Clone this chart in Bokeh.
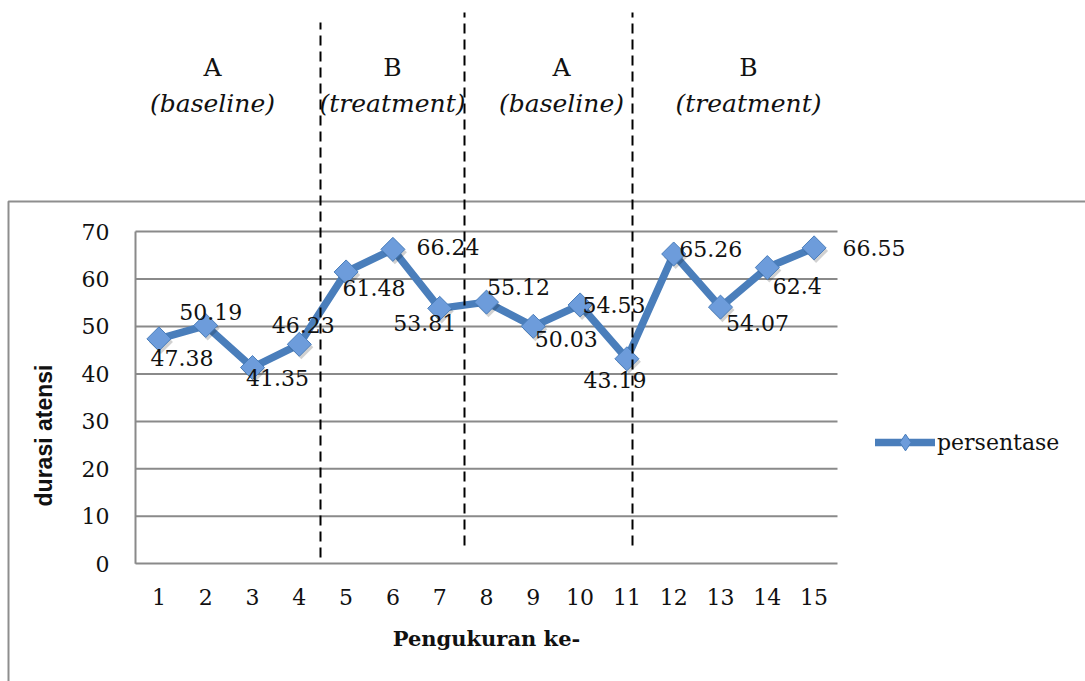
from math import pi
from bokeh.plotting import figure
from bokeh.models import ColumnDataSource, Range1d, LinearAxis, FixedTicker, Legend, LegendItem
from bokeh.core.properties import value
from bokeh.transform import dodge
from bokeh.embed import file_html
from bokeh.resources import INLINE

# ---------------- data ----------------
measurement = list(range(1, 16))
persentase = [47.38, 50.19, 41.35, 46.23, 61.48, 66.24, 53.81, 55.12,
              50.03, 54.53, 43.19, 65.26, 54.07, 62.4, 66.55]
x_ticks = measurement
y_ticks = [0, 10, 20, 30, 40, 50, 60, 70]
phase_letters = ["A", "B", "A", "B"]
phase_names = ["(baseline)", "(treatment)", "(baseline)", "(treatment)"]
series_name = "persentase"
x_title = "Pengukuran ke-"
y_title = "durasi atensi"

# ---------------- layout (pixel positions on the 1085x681 page) ----------------
W, H = 1085, 681
PX_LEFT, PX_RIGHT = 135.0, 837.0
PX_TOP, PX_BOTTOM = 231.0, 563.3
ux = (PX_RIGHT - PX_LEFT) / len(measurement)
uy = (PX_BOTTOM - PX_TOP) / (y_ticks[-1] - y_ticks[0])


def to_x(px):
    return 0.5 + (px - PX_LEFT) / ux


def to_y(py):
    return (PX_BOTTOM - py) / uy


label_dx = [23, 5, 25, 4, 28, 55, -15, 32, 33, 34, -12, 37, 37, 30, 60]
label_dy = [19, -14, 10, -19, 16, -2, 15, -15, 13, 0, 21, -5, 16, 18, 0]
phase_center_px = [212, 392, 561, 748]
letter_row_px, name_row_px = 67, 103
divider_px = [320, 464, 632]
divider_top_px = [22, 12, 12]
divider_bottom_px = [557, 545, 545]

GRAY = "#8A8A8A"
BLUE = "#4A7EBB"
SERIF = "DejaVu Serif"

p = figure(width=W, height=H,
           x_range=Range1d(to_x(0), to_x(W)), y_range=Range1d(to_y(H), to_y(0)),
           min_border=0, toolbar_location=None, tools="", output_backend="svg",
           x_axis_location=None, y_axis_location=None)
p.outline_line_color = None
p.background_fill_color = "white"
p.border_fill_color = "white"
p.grid.visible = False

# outer chart border (left and top)
p.line(x=[to_x(8), to_x(8), to_x(W + 10)], y=[to_y(H + 10), to_y(201), to_y(201)],
       line_color="#8E8E8E", line_width=2)

# horizontal gridlines
grid_y = y_ticks[1:]
p.segment(x0=[0.5] * len(grid_y), x1=[15.5] * len(grid_y), y0=grid_y, y1=grid_y,
          line_color=GRAY, line_width=2)
# left edge of plot area
p.segment(x0=[0.5], x1=[0.5], y0=[y_ticks[0]], y1=[y_ticks[-1]], line_color=GRAY, line_width=2)

# axes
xaxis = LinearAxis(fixed_location=0, bounds=(0.5, 15.5), ticker=FixedTicker(ticks=x_ticks),
                   axis_label=x_title)
yaxis = LinearAxis(fixed_location=0.5, bounds=(-16, 70), ticker=FixedTicker(ticks=y_ticks),
                   axis_label=y_title)
for ax in (xaxis, yaxis):
    ax.major_tick_in = 0
    ax.major_tick_out = 0
    ax.minor_tick_in = 0
    ax.minor_tick_out = 0
    ax.major_label_text_font = SERIF
    ax.major_label_text_font_size = "22px"
    ax.major_label_text_color = "#111111"
    ax.axis_label_text_color = "#111111"
    ax.axis_label_text_font_style = "bold"
xaxis.axis_line_color = GRAY
xaxis.axis_line_width = 2
xaxis.major_label_standoff = 25
xaxis.axis_label_text_font = SERIF
xaxis.axis_label_text_font_size = "21px"
xaxis.axis_label_standoff = 18
yaxis.axis_line_color = None
yaxis.major_label_standoff = 26
yaxis.axis_label_text_font = "Liberation Sans"
yaxis.axis_label_text_font_size = "23px"
yaxis.axis_label_standoff = 22
p.add_layout(xaxis, "below")
p.add_layout(yaxis, "left")

# series
src = ColumnDataSource(dict(x=measurement, y=persentase,
                            label=[f"{v:g}" for v in persentase],
                            dx=label_dx, dy=label_dy))
line_r = p.line("x", "y", source=src, line_color=BLUE, line_width=7.5,
                line_join="round", line_cap="round")
# zero-size diamond: draws nothing on the chart, supplies the legend's diamond symbol
legend_mark = p.scatter("x", "y", source=src, marker="diamond", size=0,
                        fill_color="#6D9CDB", line_color=BLUE, line_width=1)
p.scatter(x=dodge("x", 2 / ux), y=dodge("y", -3 / uy), source=src, marker="square",
          size=17, angle=pi / 4, fill_color="black", fill_alpha=0.18, line_color=None)
p.scatter("x", "y", source=src, marker="square", size=17, angle=pi / 4,
          fill_color="#6D9CDB", line_color=BLUE, line_width=1)
p.text("x", "y", text="label", source=src, x_offset="dx", y_offset="dy",
       text_font=value(SERIF), text_font_size="22px", text_color="#111111",
       text_align="center", text_baseline="middle")

# phase headers
hdr = ColumnDataSource(dict(x=[to_x(v) for v in phase_center_px],
                            y1=[to_y(letter_row_px)] * 4, y2=[to_y(name_row_px)] * 4,
                            letter=phase_letters, name=phase_names))
p.text("x", "y1", text="letter", source=hdr, text_font=value(SERIF), text_font_size="25px",
       text_color="#111111", text_align="center", text_baseline="middle")
p.text("x", "y2", text="name", source=hdr, text_font=value(SERIF), text_font_size="25px",
       text_font_style="italic", text_color="#111111", text_align="center",
       text_baseline="middle")

# phase dividers
p.segment(x0=[to_x(v) for v in divider_px], x1=[to_x(v) for v in divider_px],
          y0=[to_y(v) for v in divider_bottom_px], y1=[to_y(v) for v in divider_top_px],
          line_color="black", line_width=2, line_dash="10 6")

# legend
legend = Legend(items=[LegendItem(label=series_name, renderers=[line_r, legend_mark])],
                location=(875, 218), glyph_width=60, glyph_height=42, label_height=26,
                label_standoff=2, padding=0, margin=0, spacing=0,
                border_line_color=None, background_fill_alpha=0,
                label_text_font=SERIF, label_text_font_size="22px",
                label_text_color="#111111")
p.add_layout(legend)

open("out.html", "w").write(file_html(p, INLINE))
